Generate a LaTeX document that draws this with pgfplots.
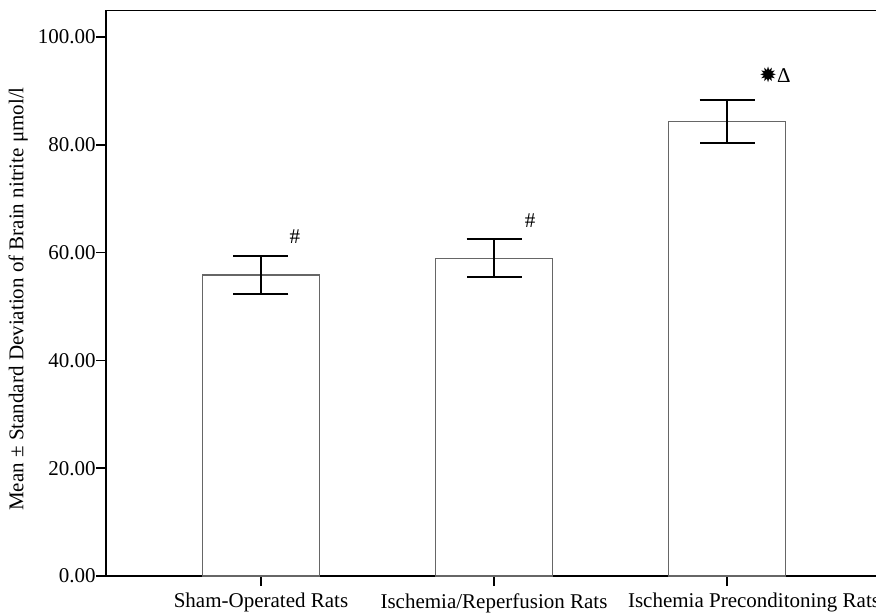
\documentclass[border=0pt]{standalone}
\usepackage{pgfplots}
\pgfplotsset{compat=1.18}
\usepackage{fontspec}
\setmainfont{Liberation Serif}
\newfontfamily\symfont{DejaVu Sans}
\begin{document}
\fontsize{10.5}{12}\selectfont
\begin{tikzpicture}
\path[use as bounding box, clip] (0,0) rectangle (438pt,306pt);
\begin{axis}[
  at={(53pt,18pt)}, anchor=south west,
  scale only axis,
  width=388pt, height=282.65pt,
  xmin=-0.665, xmax=2.665,
  ymin=0, ymax=104.88,
  xtick={0,1,2},
  xticklabels={Sham-Operated Rats, Ischemia/Reperfusion Rats, \hspace*{27pt}Ischemia Preconditoning Rats},
  ytick={0,20,40,60,80,100},
  yticklabel style={xshift=3.5pt, /pgf/number format/.cd, fixed, fixed zerofill, precision=2, assume math mode=true},
  /pgf/number format/assume math mode=true,
  tick align=outside,
  major tick length=5pt,
  xtick pos=bottom, ytick pos=left,
  tick style={black, line width=0.8pt},
  axis line style={black, line width=0.7pt},
  tick label style={font=\fontsize{10.5}{12}\selectfont},
  ylabel={Mean ± Standard Deviation of Brain nitrite μmol/l},
  ylabel style={at={(axis description cs:-0.113,0.49)}, anchor=center, font=\fontsize{10.5}{12}\selectfont},
]
\addplot[ybar, bar width=58.5pt, draw=black!60, line width=0.7pt, fill=white,
  error bars/.cd, y dir=both, y explicit,
  error bar style={black, line width=1pt},
  error mark options={rotate=90, black, line width=1pt, mark size=13.75pt}]
coordinates {
  (0,55.85) +- (0,3.6)
  (1,58.95) +- (0,3.5)
  (2,84.3) +- (0,4.05)
};
\node[font=\fontsize{10.5}{12}\selectfont] at (axis cs:0.146,62.9) {\#};
\node[font=\fontsize{10.5}{12}\selectfont] at (axis cs:1.155,66.0) {\#};
\node[font=\fontsize{10.5}{12}\selectfont] at (axis cs:2.206,93.0) {{\symfont ✹}Δ};
\end{axis}
\end{tikzpicture}
\end{document}
